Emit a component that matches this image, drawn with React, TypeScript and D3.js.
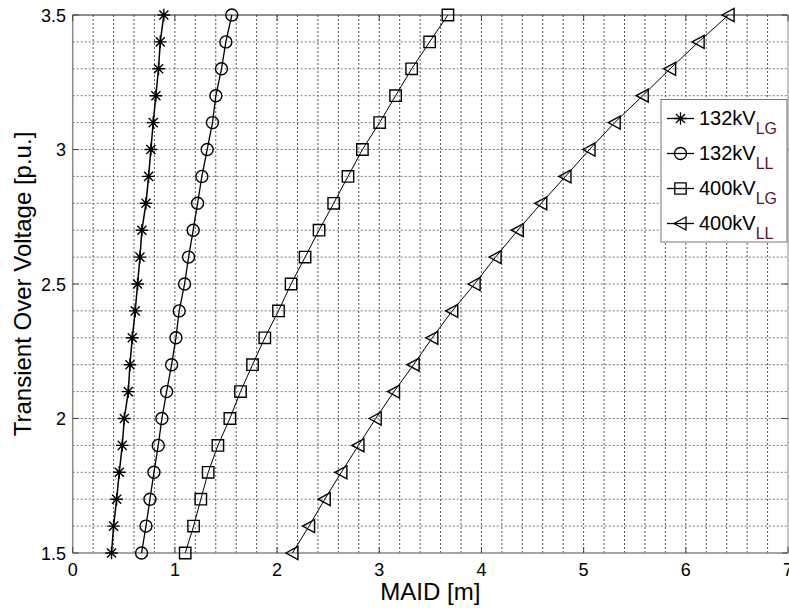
import * as d3 from "d3";

// transient over voltage levels (p.u.), shared by all four series
const tov = [1.5, 1.6, 1.7, 1.8, 1.9, 2.0, 2.1, 2.2, 2.3, 2.4, 2.5, 2.6, 2.7, 2.8, 2.9, 3.0, 3.1, 3.2, 3.3, 3.4, 3.5];

// MAID [m] per series
const kv132LG = [0.38, 0.4, 0.43, 0.456, 0.485, 0.505, 0.544, 0.56, 0.583, 0.612, 0.635, 0.658, 0.677, 0.717, 0.743, 0.765, 0.788, 0.814, 0.84, 0.857, 0.892];
const kv132LL = [0.674, 0.717, 0.756, 0.795, 0.837, 0.873, 0.919, 0.968, 1.01, 1.042, 1.095, 1.134, 1.179, 1.222, 1.264, 1.316, 1.368, 1.401, 1.456, 1.499, 1.557];
const kv400LG = [1.101, 1.183, 1.254, 1.326, 1.421, 1.538, 1.642, 1.76, 1.88, 2.014, 2.137, 2.274, 2.411, 2.554, 2.694, 2.835, 3.004, 3.16, 3.317, 3.493, 3.672];
const kv400LL = [2.15, 2.313, 2.466, 2.629, 2.796, 2.965, 3.144, 3.336, 3.519, 3.714, 3.933, 4.138, 4.356, 4.585, 4.822, 5.057, 5.304, 5.578, 5.846, 6.125, 6.418];

const legendMain = ["132kV", "132kV", "400kV", "400kV"];
const legendSub = ["LG", "LL", "LG", "LL"];
const markers = ["star", "circle", "square", "triangle"];

const xTicks = [0, 1, 2, 3, 4, 5, 6, 7];
const yTicks = [1.5, 2, 2.5, 3, 3.5];

const W = 789;
const H = 608;
const M = { left: 72.7, right: 788, top: 15, bottom: 553 };
const FONT = "'Liberation Sans', Arial, sans-serif";

const x = d3.scaleLinear().domain([0, 7]).range([M.left, M.right]);
const y = d3.scaleLinear().domain([1.5, 3.5]).range([M.bottom, M.top]);

const markerPath = (kind: string, cx: number, cy: number) => {
  if (kind === "star") {
    const r = 6.3;
    const d = r * 0.72;
    return `M${cx - r},${cy}H${cx + r}M${cx},${cy - r}V${cy + r}` +
      `M${cx - d},${cy - d}L${cx + d},${cy + d}M${cx - d},${cy + d}L${cx + d},${cy - d}`;
  }
  if (kind === "circle") {
    const r = 6;
    return `M${cx + r},${cy}A${r},${r} 0 1,1 ${cx - r},${cy}A${r},${r} 0 1,1 ${cx + r},${cy}Z`;
  }
  if (kind === "square") {
    const h = 5.7;
    return `M${cx - h},${cy - h}H${cx + h}V${cy + h}H${cx - h}Z`;
  }
  // left-pointing triangle
  const s = 6.5;
  return `M${cx - s},${cy}L${cx + s * 0.85},${cy - s}L${cx + s * 0.85},${cy + s}Z`;
};

const Series = ({ xs, kind, width }: { xs: number[]; kind: string; width: number }) => {
  const pts = xs.map((v, i) => [x(v), y(tov[i])] as [number, number]);
  const line = d3.line();
  return (
    <g>
      <path d={line(pts) ?? ""} fill="none" stroke="#000" strokeWidth={width} />
      {pts.map(([px, py], i) => (
        <path key={i} d={markerPath(kind, px, py)} fill="none" stroke="#000" strokeWidth={1.4} />
      ))}
    </g>
  );
};

const App = () => {
  const xGrid = d3.range(0, 7.001, 0.2).slice(1, -1);
  const yGrid = d3.range(1.5, 3.501, 0.1).slice(1, -1);
  const seriesData = [kv132LG, kv132LL, kv400LG, kv400LL];
  const widths = [1.5, 1.3, 1, 1];

  const lg = { x0: 661, y0: 99.5, x1: 787, y1: 242 };

  return (
    <svg width={W} height={H} style={{ position: "absolute", left: 0, top: 0, background: "#fff" }} fontFamily={FONT}>
      {/* grid */}
      <g stroke="#555" strokeWidth={1} strokeDasharray="2,2">
        {xGrid.map((g, i) => (
          <line key={"gx" + i} x1={x(g)} x2={x(g)} y1={M.top} y2={M.bottom} />
        ))}
        {yGrid.map((g, i) => (
          <line key={"gy" + i} x1={M.left} x2={M.right} y1={y(g)} y2={y(g)} stroke="#777" />
        ))}
      </g>

      {/* axes box */}
      <line x1={M.left} x2={M.right} y1={M.top} y2={M.top} stroke="#222" strokeWidth={1} />
      <line x1={M.right} x2={M.right} y1={M.top} y2={M.bottom} stroke="#888" strokeWidth={1} />
      <line x1={M.left} x2={M.left} y1={M.top} y2={M.bottom} stroke="#888" strokeWidth={1.5} />
      <line x1={M.left} x2={M.right} y1={M.bottom} y2={M.bottom} stroke="#888" strokeWidth={1.5} />

      {/* ticks */}
      <g stroke="#444" strokeWidth={1}>
        {xTicks.map((t) => (
          <g key={"tx" + t}>
            <line x1={x(t)} x2={x(t)} y1={M.bottom} y2={M.bottom - 6} />
            <line x1={x(t)} x2={x(t)} y1={M.top} y2={M.top + 6} />
          </g>
        ))}
        {yTicks.map((t) => (
          <g key={"ty" + t}>
            <line x1={M.left} x2={M.left + 6} y1={y(t)} y2={y(t)} />
            <line x1={M.right} x2={M.right - 6} y1={y(t)} y2={y(t)} />
          </g>
        ))}
      </g>

      <g fontSize={18} fill="#000">
        {xTicks.map((t) => (
          <text key={"lx" + t} x={x(t)} y={576} textAnchor="middle">
            {t}
          </text>
        ))}
        {yTicks.map((t) => (
          <text key={"ly" + t} x={66} y={y(t) + 6.5} textAnchor="end">
            {t}
          </text>
        ))}
      </g>

      <text x={(M.left + M.right) / 2} y={600} textAnchor="middle" fontSize={24}>
        MAID [m]
      </text>
      <text transform={`translate(31,${(M.top + M.bottom) / 2}) rotate(-90)`} textAnchor="middle" fontSize={24}>
        Transient Over Voltage [p.u.]
      </text>

      {seriesData.map((s, i) => (
        <Series key={i} xs={s} kind={markers[i]} width={widths[i]} />
      ))}

      {/* legend */}
      <rect x={lg.x0} y={lg.y0} width={lg.x1 - lg.x0} height={lg.y1 - lg.y0} fill="#fff" stroke="#777" strokeWidth={1} />
      {legendMain.map((t, i) => {
        const cy = 118.5 + i * 35;
        return (
          <g key={"lg" + i}>
            <line x1={667} x2={694} y1={cy} y2={cy} stroke="#000" strokeWidth={1.3} />
            <path d={markerPath(markers[i], 680.5, cy)} fill="none" stroke="#000" strokeWidth={1.3} />
            <text x={699} y={cy + 6} fontSize={20} fill="#000">
              {t}
              <tspan dy={9} fontSize={16} fill="#5a1428">
                {legendSub[i]}
              </tspan>
            </text>
          </g>
        );
      })}
    </svg>
  );
};

export default App;
